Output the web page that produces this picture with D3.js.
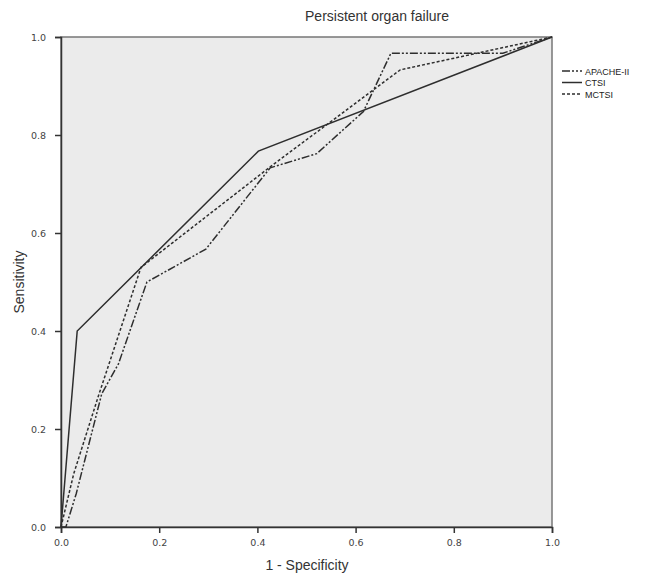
<!DOCTYPE html>
<html>
<head>
<meta charset="utf-8">
<script src="https://cdn.jsdelivr.net/npm/d3@7"></script>
<style>
  body { margin: 0; background: #fff; }
  svg { display: block; font-family: "Liberation Sans", Arial, sans-serif; }
</style>
</head>
<body>
<div id="chart"></div>
<script>
// Datos de las curvas ROC (1 - especificidad, sensibilidad)
const seriesNames = ['APACHE-II', 'CTSI', 'MCTSI'];
const apacheX = [0, 0.01, 0.031, 0.083, 0.117, 0.175, 0.295, 0.426, 0.521, 0.616, 0.672, 0.9, 1];
const apacheY = [0, 0, 0.068, 0.272, 0.333, 0.5, 0.567, 0.733, 0.762, 0.848, 0.967, 0.967, 1];
const ctsiX = [0, 0.033, 0.402, 1];
const ctsiY = [0, 0.4, 0.767, 1];
const mctsiX = [0, 0.026, 0.077, 0.163, 0.426, 0.691, 1];
const mctsiY = [0, 0.109, 0.27, 0.53, 0.735, 0.933, 1];
const tickValues = [0, 0.2, 0.4, 0.6, 0.8, 1.0];

const dashes = { 'APACHE-II': '8,2,2,2,2,2', 'CTSI': null, 'MCTSI': '3,2' };

const width = 649, height = 575;
const margin = { t: 37, r: 97, b: 48, l: 61 };

const svg = d3.select('#chart').append('svg')
    .attr('width', width)
    .attr('height', height);

const x = d3.scaleLinear().domain([0, 1]).range([margin.l, width - margin.r]);
const y = d3.scaleLinear().domain([0, 1]).range([height - margin.b, margin.t]);

// Fondo del área de trazado
svg.append('rect')
    .attr('x', x(0)).attr('y', y(1))
    .attr('width', x(1) - x(0)).attr('height', y(0) - y(1))
    .attr('fill', '#ebebeb')
    .attr('stroke', '#777')
    .attr('stroke-width', 1.5);

// Ejes
const xAxis = svg.append('g')
    .attr('transform', `translate(0,${y(0)})`)
    .call(d3.axisBottom(x).tickValues(tickValues).tickFormat(d3.format('.1f')).tickSize(6).tickPadding(6));
const yAxis = svg.append('g')
    .attr('transform', `translate(${x(0)},0)`)
    .call(d3.axisLeft(y).tickValues(tickValues).tickFormat(d3.format('.1f')).tickSize(6).tickPadding(9));

[xAxis, yAxis].forEach(g => {
    g.select('.domain').attr('stroke', '#333').attr('stroke-width', 1.5);
    g.selectAll('.tick line').attr('stroke', '#333').attr('stroke-width', 1.5);
    g.selectAll('.tick text')
        .attr('fill', '#444')
        .style('font-family', '"DejaVu Sans", sans-serif')
        .style('font-size', '9.5px');
});

// Curvas
const line = d3.line().x(d => x(d[0])).y(d => y(d[1]));
const data = {
    'APACHE-II': apacheX.map((v, i) => [v, apacheY[i]]),
    'CTSI': ctsiX.map((v, i) => [v, ctsiY[i]]),
    'MCTSI': mctsiX.map((v, i) => [v, mctsiY[i]])
};

seriesNames.forEach(name => {
    svg.append('path')
        .datum(data[name])
        .attr('d', line)
        .attr('fill', 'none')
        .attr('stroke', '#2e2e2e')
        .attr('stroke-width', 1.5)
        .attr('stroke-dasharray', dashes[name]);
});

// Leyenda
const legend = svg.append('g');
seriesNames.forEach((name, i) => {
    const ly = 71 + i * 11.5;
    legend.append('line')
        .attr('x1', 562).attr('x2', 582)
        .attr('y1', ly).attr('y2', ly)
        .attr('stroke', '#2e2e2e')
        .attr('stroke-width', 1.5)
        .attr('stroke-dasharray', dashes[name]);
    legend.append('text')
        .attr('x', 585).attr('y', ly + 3.5)
        .attr('fill', '#222')
        .style('font-size', '9px')
        .text(name);
});

// Títulos
svg.append('text')
    .attr('x', 377).attr('y', 21)
    .attr('text-anchor', 'middle')
    .attr('fill', '#333')
    .style('font-size', '14px')
    .text('Persistent organ failure');

svg.append('text')
    .attr('x', 307).attr('y', 570)
    .attr('text-anchor', 'middle')
    .attr('fill', '#333')
    .style('font-size', '14px')
    .text('1 - Specificity');

svg.append('text')
    .attr('transform', `translate(24,${(y(0) + y(1)) / 2}) rotate(-90)`)
    .attr('text-anchor', 'middle')
    .attr('fill', '#333')
    .style('font-size', '14px')
    .text('Sensitivity');
</script>
</body>
</html>
